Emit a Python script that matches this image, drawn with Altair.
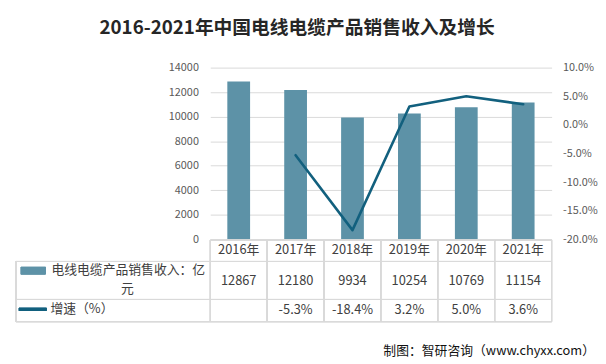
import altair as alt
import pandas as pd

# ---- data ----
years = ["2016年", "2017年", "2018年", "2019年", "2020年", "2021年"]
revenue = [12867, 12180, 9934, 10254, 10769, 11154]
growth = [None, -5.3, -18.4, 3.2, 5.0, 3.6]
left_ticks = [0, 2000, 4000, 6000, 8000, 10000, 12000, 14000]
right_ticks = [-20, -15, -10, -5, 0, 5, 10]

title_text = "2016-2021年中国电线电缆产品销售收入及增长"
bar_name_1 = "电线电缆产品销售收入：亿"
bar_name_2 = "元"
line_name = "增速（%）"
source_text = "制图：智研咨询（www.chyxx.com）"

growth_labels = ["" if g is None else f"{g:.1f}%" for g in growth]

df = pd.DataFrame({"year": years, "revenue": revenue, "growth": growth,
                   "glabel": growth_labels})

# ---- layout (page px -> view px) ----
W, H = 346, 174
OX, OY = 213, 66          # view origin on page
FONT = "Noto Sans CJK SC"
BAR_C = "#5D92A7"
LINE_C = "#12607E"
GRID_C = "#D9D9D9"
TXT_C = "#404040"

def px(x):
    return x - OX

def py(y):
    return y - OY

xscale = alt.Scale(paddingInner=0.6, paddingOuter=0.3)
xenc = alt.X("year:N", sort=years, scale=xscale,
             axis=alt.Axis(title=None, labelAngle=0, ticks=False, domain=False,
                           labelFontSize=13, labelColor=TXT_C, labelFont=FONT,
                           labelBaseline="middle", labelPadding=10, grid=False))

base = alt.Chart(df)

bars = base.mark_bar(color=BAR_C).encode(
    x=xenc,
    y=alt.Y("revenue:Q", scale=alt.Scale(domain=[0, 14000], nice=False),
            axis=alt.Axis(title=None, values=left_ticks, ticks=False, domain=False,
                          format="d",
                          labelFontSize=11, labelColor="#595959", labelFont=FONT,
                          labelPadding=12, gridColor=GRID_C, grid=True)),
)

line = base.transform_filter("isValid(datum.growth)").mark_line(
    color=LINE_C, strokeWidth=2.6, strokeJoin="round", strokeCap="round"
).encode(
    x=alt.X("year:N", sort=years, scale=xscale),
    y=alt.Y("growth:Q", scale=alt.Scale(domain=[-20, 10], nice=False),
            axis=alt.Axis(title=None, orient="right", values=right_ticks, ticks=False,
                          domain=False, grid=False, labelFontSize=11,
                          labelColor="#595959", labelFont=FONT, labelPadding=11,
                          labelExpr="(datum.value < 0 ? '-' : '') + format(abs(datum.value), '.1f') + '%'")),
)

row1 = base.mark_text(fontSize=13, font=FONT, color=TXT_C, baseline="middle").encode(
    x=alt.X("year:N", sort=years, scale=xscale),
    y=alt.value(py(282.5)),
    text=alt.Text("revenue:Q", format="d"),
)
row2 = base.mark_text(fontSize=13, font=FONT, color=TXT_C, baseline="middle").encode(
    x=alt.X("year:N", sort=years, scale=xscale),
    y=alt.value(py(312)),
    text="glabel:N",
)

# table grid lines (decoration)
step = W / len(years)
rules = []
hlines = [(241, 213, 559), (262.5, 16, 559), (301, 16, 559), (323.5, 16, 559)]
for y, x1, x2 in hlines:
    rules.append(alt.Chart(df).mark_rule(color=GRID_C, strokeWidth=1).encode(
        x=alt.value(px(x1)), x2=alt.value(px(x2)), y=alt.value(py(y))))
vlines = [(16, 262.5, 323.5)] + [(OX + i * step, 241, 323.5) for i in range(len(years) + 1)]
for x, y1, y2 in vlines:
    rules.append(alt.Chart(df).mark_rule(color=GRID_C, strokeWidth=1).encode(
        x=alt.value(px(x)), y=alt.value(py(y1)), y2=alt.value(py(y2))))

# legend inside the table
leg_rect = alt.Chart(df).mark_rect(color=BAR_C).encode(
    x=alt.value(px(21)), x2=alt.value(px(46)), y=alt.value(py(268)), y2=alt.value(py(275.5)))
leg_line = alt.Chart(df).mark_rule(color=LINE_C, strokeWidth=3).encode(
    x=alt.value(px(19)), x2=alt.value(px(47)), y=alt.value(py(311)))

def label(text, x, y, align="left", size=13, color=TXT_C, weight="normal"):
    return alt.Chart(pd.DataFrame({"t": [text]})).mark_text(
        align=align, baseline="middle", fontSize=size, font=FONT, color=color,
        fontWeight=weight).encode(x=alt.value(px(x)), y=alt.value(py(y)), text="t:N")

texts = [
    label(bar_name_1, 52, 271),
    label(bar_name_2, 129, 290, align="center"),
    label(line_name, 51, 311),
    label(source_text, 603, 353, align="right", color="#111111"),
    label(title_text, 301, 26, align="center", size=19, color="#262626", weight="bold"),
]

chart = alt.layer(bars, line, row1, row2, *rules, leg_rect, leg_line, *texts).resolve_scale(
    y="independent"
).properties(
    width=W, height=H,
    autosize=alt.AutoSizeParams(type="none"),
    padding={"left": 205, "top": 58, "right": 47, "bottom": 124},
    background="white",
).configure_view(stroke=None)

chart.save("out.html", embed_options={"renderer": "svg", "actions": False})
